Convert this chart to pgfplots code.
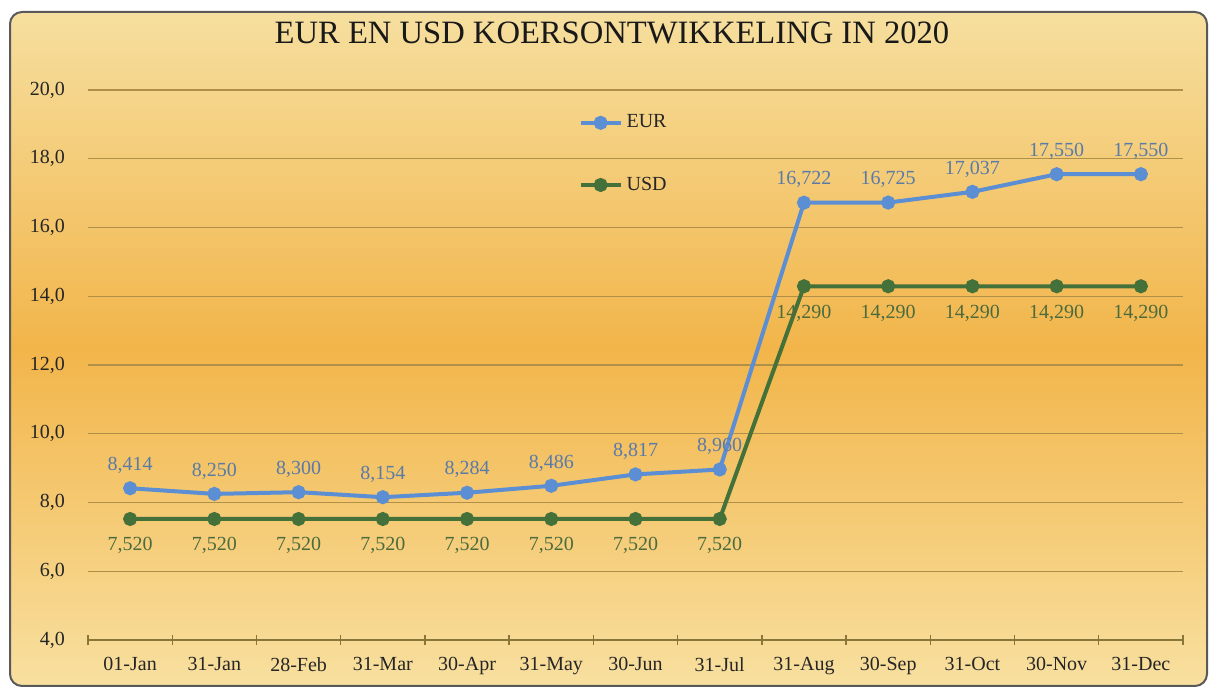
\documentclass[border=0pt]{standalone}
\usepackage{pgfplots}
\pgfplotsset{compat=1.18}
\usepackage{fontspec}
\setmainfont{Liberation Serif}
\definecolor{eurc}{HTML}{5B8ED3}
\definecolor{usdc}{HTML}{44703A}
\definecolor{eurl}{HTML}{5A7AA8}
\definecolor{usdl}{HTML}{4C6B3C}
\definecolor{gridc}{HTML}{B09048}
\definecolor{axc}{HTML}{8A7638}
\definecolor{bgtop}{HTML}{F6DF9F}
\definecolor{bgmid}{HTML}{F2B54A}
\definecolor{bgbot}{HTML}{F8E0A0}
\begin{document}
\begin{tikzpicture}
\useasboundingbox (0,0) rectangle (604.5pt,344.5pt);
\fill[white] (0,0) rectangle (604.5pt,344.5pt);
\shade[top color=bgtop, bottom color=bgbot, middle color=bgmid, rounded corners=6pt] (5pt,1.5pt) rectangle (603.5pt,338.5pt);
\draw[rounded corners=6pt, color=black!65, line width=1pt] (5pt,1.5pt) rectangle (603.5pt,338.5pt);
\begin{axis}[
  at={(44pt,24.5pt)}, anchor=south west,
  scale only axis, width=547.5pt, height=275pt,
  xmin=-0.5, xmax=12.5, ymin=4, ymax=20,
  axis background/.style={fill=none},
  axis x line*=bottom, axis y line*=left,
  x axis line style={axc, line width=1pt, -},
  y axis line style={draw=none},
  ytick={4,6,...,20},
  ymajorgrids, grid style={gridc, line width=0.7pt},
  ytick style={draw=none},
  yticklabel={\pgfmathprintnumber[fixed,fixed zerofill,precision=1,use comma,assume math mode=true]{\tick}},
  yticklabel style={font=\rmfamily\fontsize{10}{12}\selectfont, text=black!85, xshift=-8pt},
  xtick={0,...,12},
  xticklabels={01-Jan,31-Jan,28-Feb,31-Mar,30-Apr,31-May,30-Jun,31-Jul,31-Aug,30-Sep,31-Oct,30-Nov,31-Dec},
  xticklabel style={font=\rmfamily\fontsize{10}{12}\selectfont, text=black!85, yshift=-3pt},
  major x tick style={draw=none},
  minor xtick={-0.5,0.5,...,12.5},
  minor x tick style={axc, line width=0.7pt},
  xtick align=center, minor tick length=5pt,
  title={EUR EN USD KOERSONTWIKKELING IN 2020},
  title style={at={(axis description cs:0.4785,1.082)}, anchor=center, font=\rmfamily\fontsize{16.3}{19}\selectfont, text=black!90},
  legend style={at={(axis cs:5.25,18.14)}, anchor=west, draw=none, fill=none, row sep=19pt, font=\rmfamily\fontsize{10}{12}\selectfont, text=black!85},
  legend cell align=left,
  legend image code/.code={\draw[mark repeat=2,mark phase=2] plot coordinates {(0cm,0cm)(0.35cm,0cm)(0.7cm,0cm)};},
  nodes near coords={\pgfmathprintnumber[fixed,fixed zerofill,precision=3,use comma,assume math mode=true]{\pgfplotspointmeta}},
  point meta=y,
]
\addplot[eurc, line width=2pt, mark=*, mark size=2.5pt, mark options={fill=eurc, draw=eurc},
  every node near coord/.append style={text=eurl, font=\rmfamily\fontsize{10}{12}\selectfont, anchor=south, yshift=3pt}]
  coordinates {(0,8.414)(1,8.250)(2,8.300)(3,8.154)(4,8.284)(5,8.486)(6,8.817)(7,8.960)(8,16.722)(9,16.725)(10,17.037)(11,17.550)(12,17.550)};
\addlegendentry{EUR}
\addplot[usdc, line width=2pt, mark=*, mark size=2.5pt, mark options={fill=usdc, draw=usdc},
  every node near coord/.append style={text=usdl, font=\rmfamily\fontsize{10}{12}\selectfont, anchor=north, yshift=-5pt}]
  coordinates {(0,7.520)(1,7.520)(2,7.520)(3,7.520)(4,7.520)(5,7.520)(6,7.520)(7,7.520)(8,14.290)(9,14.290)(10,14.290)(11,14.290)(12,14.290)};
\addlegendentry{USD}
\end{axis}
\end{tikzpicture}
\end{document}
